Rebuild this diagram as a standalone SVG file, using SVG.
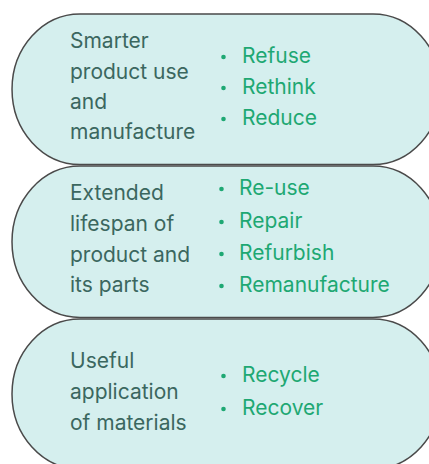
<svg xmlns="http://www.w3.org/2000/svg" width="429" height="464" viewBox="0 0 429 464">
  <style>
    .pill { fill: #d5efee; stroke: #4a4a4a; stroke-width: 1.5; }
    .label { font-family: Inter, "Noto Sans", sans-serif; font-size: 21px; fill: #3b675f; }
    .item { font-family: Inter, "Noto Sans", sans-serif; font-size: 21px; fill: #1ea873; }
    .dot { fill: #1ea873; }
  </style>
  <rect width="429" height="464" fill="#ffffff"/>

  <g id="smarter-use">
    <path class="pill" d="M 80 14 H 373 A 68 75.25 0 0 1 373 164.5 H 80 A 68 75.25 0 0 1 80 14 Z"/>
    <text class="label" x="70" y="48">Smarter</text>
    <text class="label" x="70" y="79">product use</text>
    <text class="label" x="70" y="109">and</text>
    <text class="label" x="70" y="139">manufacture</text>
    <circle class="dot" cx="223.5" cy="57" r="2.3"/>
    <text class="item" x="242" y="63">Refuse</text>
    <circle class="dot" cx="223.5" cy="88" r="2.3"/>
    <text class="item" x="242" y="94">Rethink</text>
    <circle class="dot" cx="223.5" cy="119" r="2.3"/>
    <text class="item" x="242" y="125">Reduce</text>
  </g>

  <g id="extended-lifespan">
    <path class="pill" d="M 80 166 H 373 A 68 75.75 0 0 1 373 317.5 H 80 A 68 75.75 0 0 1 80 166 Z"/>
    <text class="label" x="70" y="200">Extended</text>
    <text class="label" x="70" y="231">lifespan of</text>
    <text class="label" x="70" y="262">product and</text>
    <text class="label" x="70" y="292">its parts</text>
    <circle class="dot" cx="221.5" cy="189" r="2.3"/>
    <text class="item" x="239" y="195">Re-use</text>
    <circle class="dot" cx="221.5" cy="222" r="2.3"/>
    <text class="item" x="239" y="228">Repair</text>
    <circle class="dot" cx="221.5" cy="254" r="2.3"/>
    <text class="item" x="239" y="260">Refurbish</text>
    <circle class="dot" cx="221.5" cy="286" r="2.3"/>
    <text class="item" x="239" y="292">Remanufacture</text>
  </g>

  <g id="useful-application">
    <path class="pill" d="M 80 319 H 373 A 68 75 0 0 1 373 469 H 80 A 68 75 0 0 1 80 319 Z"/>
    <text class="label" x="70" y="368">Useful</text>
    <text class="label" x="70" y="399">application</text>
    <text class="label" x="70" y="430">of materials</text>
    <circle class="dot" cx="223.5" cy="376" r="2.3"/>
    <text class="item" x="242" y="382">Recycle</text>
    <circle class="dot" cx="223.5" cy="409" r="2.3"/>
    <text class="item" x="242" y="415">Recover</text>
  </g>

  <g id="connectors"/>
</svg>
